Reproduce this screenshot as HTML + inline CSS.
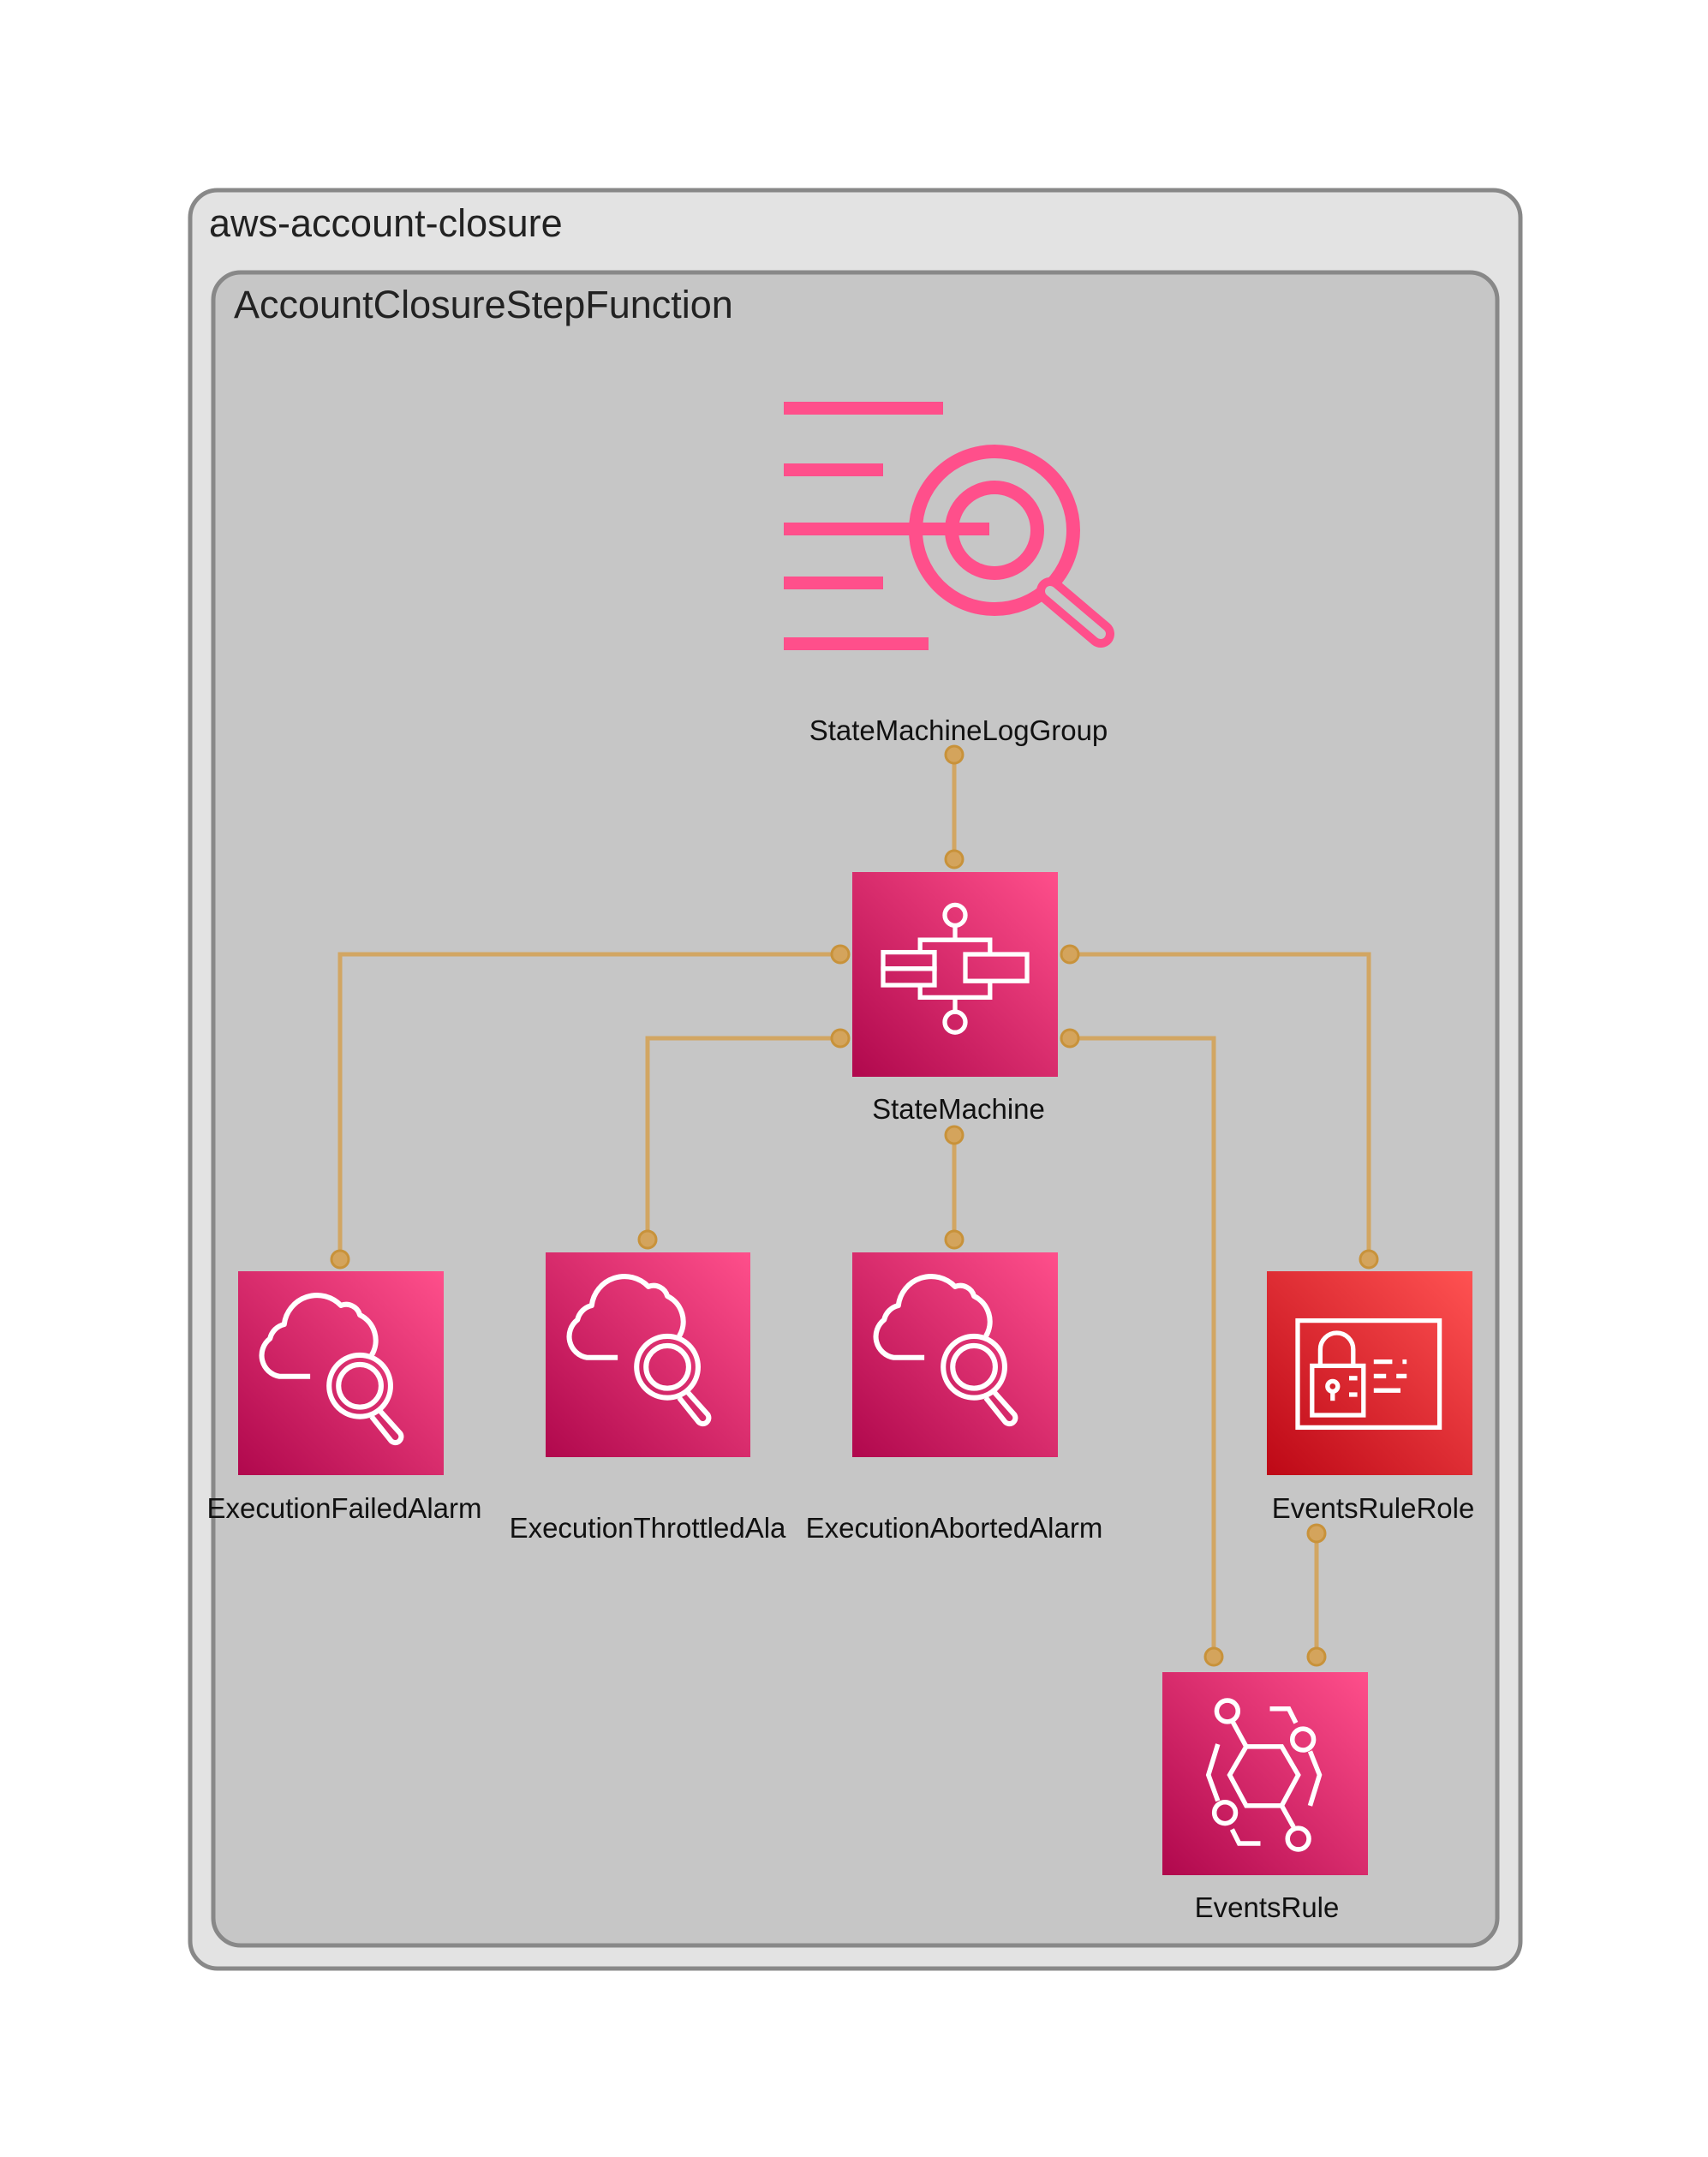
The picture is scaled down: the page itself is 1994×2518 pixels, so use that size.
<!DOCTYPE html>
<html><head><meta charset="utf-8"><style>html,body{margin:0;padding:0;background:#fff}svg{display:block}text{font-family:"Liberation Sans",sans-serif}</style></head>
<body>
<svg width="1994" height="2518" viewBox="0 0 1994 2518" xmlns="http://www.w3.org/2000/svg">
<defs>
<linearGradient id="pk" x1="0" y1="1" x2="1" y2="0"><stop offset="0" stop-color="#b0084d"/><stop offset="1" stop-color="#ff4f8b"/></linearGradient>
<linearGradient id="rd" x1="0" y1="1" x2="1" y2="0"><stop offset="0" stop-color="#bd0816"/><stop offset="1" stop-color="#ff5252"/></linearGradient>
<g id="alarm" fill="none" stroke="#fff" stroke-width="2.2" stroke-linejoin="round">
<path d="M37,51 H24 A9,9 0 0 1 20,35 A8,8 0 0 1 26,29 A14,14 0 0 1 50,21 A6,6 0 0 1 58,25 A12,12 0 0 1 63,42"/>
<circle cx="58" cy="55" r="13"/><circle cx="58" cy="55" r="9"/>
<path d="M66,65 L75,75 A2.5,2.5 0 0 1 71,78 L63,68"/>
</g>
</defs>
<rect x="222" y="222" width="1553" height="2076" rx="32" fill="#e3e3e3" stroke="#888" stroke-width="5"/>
<text x="244" y="276" font-size="45" fill="#222">aws-account-closure</text>
<rect x="249" y="318" width="1499" height="1953" rx="32" fill="#c6c6c6" stroke="#888" stroke-width="5"/>
<text x="273" y="371" font-size="45" fill="#222">AccountClosureStepFunction</text>

<g fill="#ff4f8b">
<circle cx="1161" cy="619" r="92" fill="none" stroke="#ff4f8b" stroke-width="16"/>
<circle cx="1161" cy="619" r="50" fill="none" stroke="#ff4f8b" stroke-width="16"/>
<line x1="1226" y1="690" x2="1285" y2="740" stroke="#ff4f8b" stroke-width="32" stroke-linecap="round"/>
<line x1="1226" y1="690" x2="1285" y2="740" stroke="#c6c6c6" stroke-width="12" stroke-linecap="round"/>
<rect x="915" y="469" width="186" height="15"/>
<rect x="915" y="541" width="116" height="15"/>
<rect x="915" y="610" width="240" height="15"/>
<rect x="915" y="673" width="116" height="15"/>
<rect x="915" y="744" width="169" height="15"/>
</g>

<g fill="none" stroke="#d2a663" stroke-width="5">
<line x1="1114" y1="881" x2="1114" y2="1003"/>
<polyline points="981,1114 397,1114 397,1470"/>
<polyline points="981,1212 756,1212 756,1447"/>
<polyline points="1249,1114 1598,1114 1598,1470"/>
<polyline points="1249,1212 1417,1212 1417,1934"/>
<line x1="1114" y1="1325" x2="1114" y2="1447"/>
<line x1="1537" y1="1790" x2="1537" y2="1934"/>
</g>
<g fill="#d4a45c" stroke="#c8923a" stroke-width="3">
<circle cx="1114" cy="881" r="10"/><circle cx="1114" cy="1003" r="10"/>
<circle cx="981" cy="1114" r="10"/><circle cx="981" cy="1212" r="10"/>
<circle cx="1249" cy="1114" r="10"/><circle cx="1249" cy="1212" r="10"/>
<circle cx="397" cy="1470" r="10"/><circle cx="756" cy="1447" r="10"/>
<circle cx="1114" cy="1325" r="10"/><circle cx="1114" cy="1447" r="10"/>
<circle cx="1598" cy="1470" r="10"/><circle cx="1417" cy="1934" r="10"/>
<circle cx="1537" cy="1790" r="10"/><circle cx="1537" cy="1934" r="10"/>
</g>

<rect x="995" y="1018" width="240" height="239" fill="url(#pk)"/>
<g transform="translate(995,1018) scale(2.4)" fill="none" stroke="#fff" stroke-width="2.2">
<circle cx="50" cy="21" r="5"/><line x1="50" y1="26" x2="50" y2="33"/>
<polyline points="33,39 33,33 67,33 67,39"/>
<rect x="15" y="39" width="25" height="8"/><rect x="15" y="47" width="25" height="8"/>
<rect x="55" y="40" width="30" height="13"/>
<polyline points="33,55 33,61 67,61 67,53"/>
<line x1="50" y1="61" x2="50" y2="68"/><circle cx="50" cy="73" r="5"/>
</g>
<text x="1119" y="1306" font-size="33" text-anchor="middle" fill="#111">StateMachine</text>
<text x="1119" y="864" font-size="33" text-anchor="middle" fill="#111">StateMachineLogGroup</text>

<rect x="278" y="1484" width="240" height="238" fill="url(#pk)"/>
<use href="#alarm" transform="translate(278,1484) translate(-18,-18) scale(2.76)"/>
<rect x="637" y="1462" width="239" height="239" fill="url(#pk)"/>
<use href="#alarm" transform="translate(637,1462) translate(-18,-18) scale(2.76)"/>
<rect x="995" y="1462" width="240" height="239" fill="url(#pk)"/>
<use href="#alarm" transform="translate(995,1462) translate(-18,-18) scale(2.76)"/>
<text x="402" y="1772" font-size="33" text-anchor="middle" fill="#111">ExecutionFailedAlarm</text>
<text x="756" y="1795" font-size="33" text-anchor="middle" fill="#111">ExecutionThrottledAla</text>
<text x="1114" y="1795" font-size="33" text-anchor="middle" fill="#111">ExecutionAbortedAlarm</text>

<rect x="1479" y="1484" width="240" height="238" fill="url(#rd)"/>
<g transform="translate(1479,1484) scale(2.4)" fill="none" stroke="#fff" stroke-width="2.2">
<rect x="15" y="24" width="69" height="52"/>
<rect x="22" y="46" width="25" height="24"/>
<path d="M26,46 V38 A8,8 0 0 1 42,38 V46"/>
<circle cx="32" cy="56" r="2.5"/><line x1="32" y1="58" x2="32" y2="63"/>
<line x1="40" y1="52" x2="44" y2="52"/><line x1="40" y1="60" x2="44" y2="60"/>
<line x1="52" y1="44" x2="61" y2="44"/><line x1="66" y1="44" x2="68" y2="44"/>
<line x1="52" y1="51" x2="58" y2="51"/><line x1="63" y1="51" x2="68" y2="51"/>
<line x1="52" y1="58" x2="65" y2="58"/>
</g>
<text x="1603" y="1772" font-size="33" text-anchor="middle" fill="#111">EventsRuleRole</text>

<rect x="1357" y="1952" width="240" height="237" fill="url(#pk)"/>
<g transform="translate(1357,1952) translate(-18,-18) scale(2.76)" fill="none" stroke="#fff" stroke-width="2">
<polygon points="42,38 57,38 64,50 57,63 42,63 35,50"/>
<circle cx="34" cy="23" r="4.5"/><line x1="36" y1="27" x2="42" y2="38"/>
<polyline points="52,22 60,22 63,28"/><circle cx="66" cy="35" r="4.5"/>
<polyline points="69,40 73,50 69,63"/>
<circle cx="64" cy="77" r="4.5"/><line x1="57" y1="63" x2="62" y2="72"/>
<polyline points="48,79 39,79 36,73"/><circle cx="33" cy="66" r="4.5"/>
<polyline points="30,61 26,50 30,37"/>
</g>
<text x="1479" y="2238" font-size="33" text-anchor="middle" fill="#111">EventsRule</text>
</svg>
</body></html>
